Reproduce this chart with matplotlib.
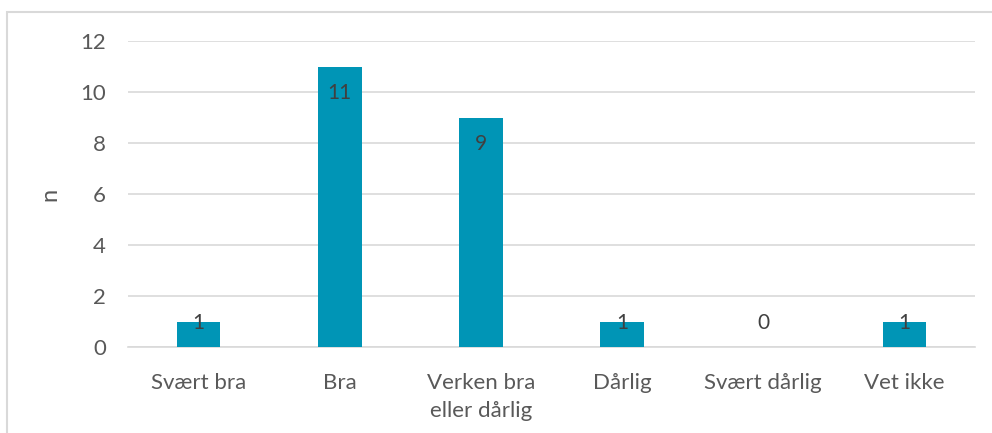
import matplotlib
matplotlib.use("Agg")
import matplotlib.pyplot as plt
from matplotlib.patches import Rectangle

categories = ["Svært bra", "Bra", "Verken bra\neller dårlig", "Dårlig", "Svært dårlig", "Vet ikke"]
values = [1, 11, 9, 1, 0, 1]
yticks = [0, 2, 4, 6, 8, 10, 12]

plt.rcParams['font.family'] = ['Lato', 'DejaVu Sans']
text_color = "#595959"
label_color = "#404040"
bar_color = "#0095B6"
grid_color = "#D9D9D9"

fig = plt.figure(figsize=(9.92, 4.33), dpi=100)
fig.patches.append(Rectangle((7/992, -0.01), 1.0, 1 - 12/433 + 0.01, transform=fig.transFigure,
                             fill=False, edgecolor=grid_color, linewidth=1.5))
ax = fig.add_axes([128/992, 1 - 347/433, (975 - 128)/992, (347 - 41)/433])

x = list(range(len(categories)))
ax.bar(x, values, width=0.31, color=bar_color, zorder=3)
ax.set_xlim(-0.5, len(categories) - 0.5)
ax.set_ylim(0, 12)
ax.set_yticks(yticks)
ax.set_yticklabels([str(t) for t in yticks])
ax.set_xticks(x)
ax.set_xticklabels(categories, linespacing=1.45)
ax.grid(axis='y', color=grid_color, linewidth=1.2, zorder=0)
ax.set_axisbelow(True)
for s in ['top', 'right', 'left']:
    ax.spines[s].set_visible(False)
ax.spines['bottom'].set_color(grid_color)
ax.spines['bottom'].set_linewidth(1.2)
ax.tick_params(axis='both', length=0, labelsize=16, colors=text_color)
ax.tick_params(axis='x', pad=19)
ax.tick_params(axis='y', pad=16)
for lbl in ax.get_xticklabels():
    lbl.set_verticalalignment('top')
ax.set_ylabel("n", fontsize=17, color=text_color)
ax.yaxis.set_label_coords(-0.080, 0.5)

for xi, v in zip(x, values):
    ypos = max(v - 1.04, 0.94)
    ax.text(xi, ypos, str(v), ha='center', va='center', fontsize=15, color=label_color, zorder=4)

fig.savefig("out.png", dpi=100)
